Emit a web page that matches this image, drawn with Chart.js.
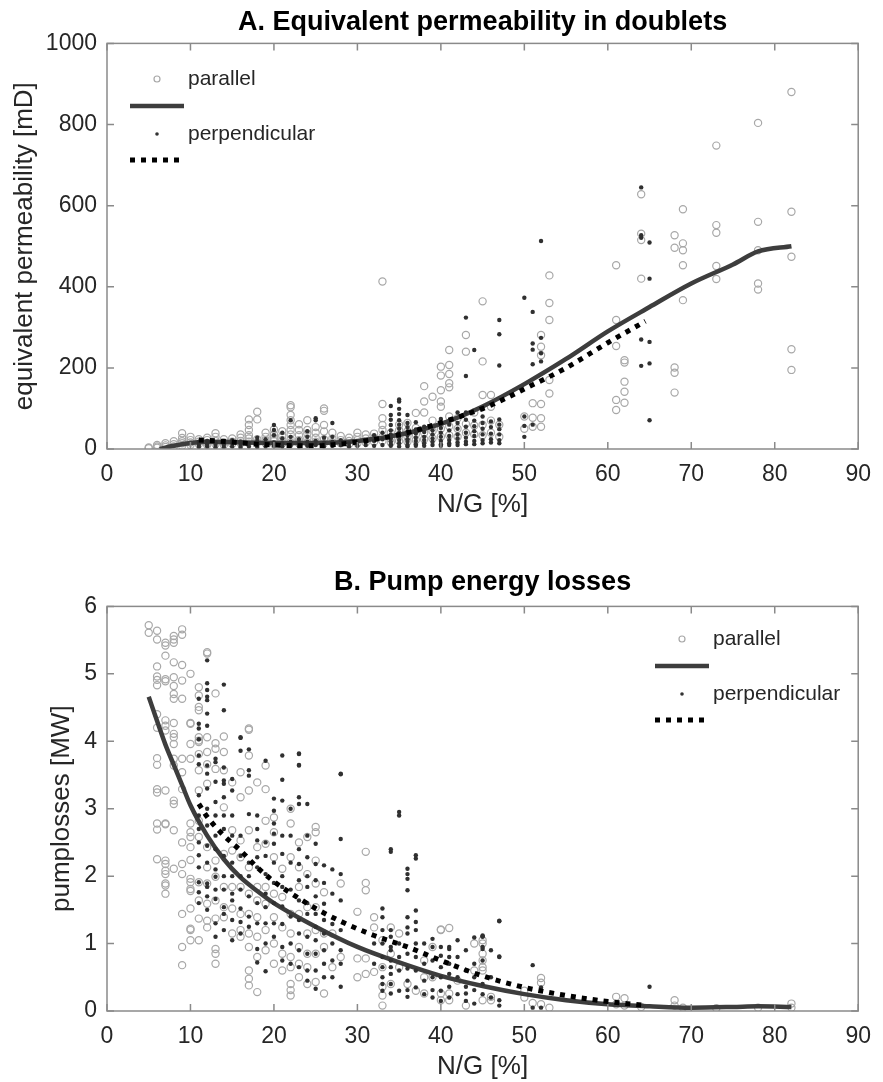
<!DOCTYPE html>
<html lang="en">
<head>
<meta charset="UTF-8">
<title>Equivalent permeability and pump energy losses</title>
<script src="https://cdn.jsdelivr.net/npm/chart.js"></script>
<style>
    html, body { margin: 0; padding: 0; background: #fff; }
    #wrap { position: relative; width: 883px; height: 1082px; }
    .box { position: absolute; left: 0; width: 883px; }
    #boxA { top: 0; height: 530px; }
    #boxB { top: 530px; height: 552px; }
</style>
</head>
<body>
<div id="wrap">
    <div class="box" id="boxA"><canvas id="chartA"></canvas></div>
    <div class="box" id="boxB"><canvas id="chartB"></canvas></div>
</div>

<script>
// ---- tick labels ----
const xTicks = [0, 10, 20, 30, 40, 50, 60, 70, 80, 90];
const yTicksA = [0, 200, 400, 600, 800, 1000];
const yTicksB = [0, 1, 2, 3, 4, 5, 6];

// ---- A. equivalent permeability [mD], columns of [N/G, values] ----
const parA = [
    [5, [2, 4]], [6, [3, 6, 10]], [7, [5, 9, 14]], [8, [6, 12, 19]],
    [9, [8, 14, 19, 27, 39]], [10, [10, 16, 22, 30]], [11, [12, 18, 24]],
    [12, [10, 15, 22, 28]], [13, [12, 20, 30, 39]], [14, [10, 16, 24]],
    [15, [12, 18, 26]], [16, [14, 20, 28, 36]], [17, [18, 26, 34, 47, 59, 73]],
    [18, [16, 24, 73, 92]], [19, [14, 22, 30, 40]], [20, [12, 20, 28, 36, 48]],
    [21, [14, 22, 32, 44]], [22, [16, 24, 36, 47, 59, 71, 84, 103, 108]],
    [23, [14, 22, 34, 47, 61]], [24, [16, 26, 38, 47, 71]], [25, [18, 28, 40, 54]],
    [26, [14, 24, 43, 59, 94, 100]], [27, [16, 26, 40]], [28, [14, 22, 32]],
    [29, [12, 20, 28]], [30, [14, 22, 30, 40]], [31, [16, 26, 36]], [32, [18, 28, 38]],
    [33, [20, 30, 47, 59, 76, 111, 413]], [34, [16, 26, 40]], [35, [20, 32, 46, 60]],
    [36, [18, 30, 44, 64]], [37, [22, 36, 52, 89]], [38, [24, 40, 90, 117, 155]],
    [39, [26, 44, 70, 129]], [40, [30, 50, 104, 117, 145, 181, 203]],
    [41, [34, 56, 80, 152, 162, 185, 207, 244]], [42, [30, 50, 76]],
    [43, [40, 62, 240, 281]], [44, [36, 58, 90]], [45, [34, 60, 133, 216, 364]],
    [46, [40, 70, 104, 133]], [47, [30, 60]], [50, [50, 80]], [51, [55, 77, 113]],
    [52, [55, 76, 111, 231, 252, 281]], [53, [137, 170, 318, 360, 428]],
    [61, [96, 121, 254, 318, 453]], [62, [114, 141, 166, 213, 219]],
    [64, [420, 515, 531, 628]], [68, [139, 188, 201, 496, 527]],
    [69, [367, 453, 490, 507, 591]], [73, [419, 451, 533, 552, 748]],
    [78, [393, 408, 490, 560, 804]], [82, [195, 246, 474, 585, 880]]
];
const perpA = [
    [11, [5, 10, 18]], [12, [6, 12, 20]], [13, [4, 10, 16]], [14, [5, 12]],
    [15, [6, 14, 22]], [16, [4, 10, 18]], [17, [6, 14]], [18, [5, 12, 20, 28]],
    [19, [6, 14, 24]], [20, [8, 16, 34, 47, 59]], [21, [6, 14, 26, 40]],
    [22, [8, 18, 30, 71]], [23, [6, 14, 24]], [24, [8, 18, 30, 44]],
    [25, [10, 20, 71, 76]], [26, [6, 16, 28]], [27, [8, 18, 30, 64]], [28, [10, 22]],
    [29, [6, 14]], [30, [8, 18]], [31, [10, 22]], [32, [8, 20, 34]], [33, [10, 24, 40]],
    [34, [8, 12, 18, 26, 36, 46, 59, 72, 84, 106]],
    [35, [6, 14, 22, 30, 40, 50, 60, 71, 86, 99, 117, 122]],
    [36, [6, 10, 18, 24, 34, 44, 54, 64, 84]], [37, [8, 12, 20, 28, 38, 48, 66]],
    [38, [8, 14, 22, 30, 42, 55]], [39, [10, 18, 26, 36, 46]],
    [40, [8, 12, 20, 30, 40, 52, 62, 74]], [41, [10, 14, 22, 32, 46, 60]],
    [42, [10, 16, 26, 36, 50, 64, 90]], [43, [12, 18, 28, 40, 55, 72, 90, 180, 324]],
    [44, [12, 20, 32, 44, 56, 70, 244]],
    [45, [14, 22, 36, 50, 64, 80]], [46, [16, 24, 38, 54, 68]],
    [47, [14, 22, 36, 49, 60, 73, 206, 283, 318]],
    [50, [30, 57, 80, 373]], [51, [60, 209, 245, 260, 338]], [52, [216, 236, 274, 513]],
    [64, [205, 270, 521, 527, 645]], [65, [71, 211, 264, 420, 509]]
];
const fitParA_x = [6.3, 8, 10, 12, 15, 20, 25, 30, 35, 40, 45, 50, 55, 60, 65, 70, 75, 78, 82];
const fitParA_y = [0, 8, 15, 18, 17, 15, 15, 20, 35, 62, 105, 160, 222, 290, 350, 408, 455, 487, 500];
const fitPerpA_x = [11, 13, 15, 18, 20, 23, 25, 28, 30, 33, 35, 38, 40, 43, 46, 50, 55, 60, 64.5];
const fitPerpA_y = [22, 20, 17, 12, 10, 8, 8, 12, 17, 27, 35, 52, 65, 85, 108, 148, 200, 262, 315];

// ---- B. pump losses [MW], columns of [N/G, values] ----
const parB = [
    [5, [5.72, 5.61]],
    [6, [5.64, 5.51, 5.11, 4.96, 4.91, 4.83, 4.4, 4.2, 3.75, 3.65, 3.29, 3.24, 2.78, 2.69, 2.25]],
    [7, [5.46, 5.42, 5.27, 4.92, 4.89, 4.31, 4.23, 4.16, 3.27, 2.78, 2.77, 2.23, 2.18, 2.08, 2.03, 1.89, 1.86, 1.74]],
    [8, [5.56, 5.51, 5.46, 5.17, 4.95, 4.82, 4.70, 4.63, 4.27, 4.11, 4.06, 3.96, 3.74, 3.64, 3.12, 3.07, 2.68, 2.11]],
    [9, [5.66, 5.58, 5.13, 4.90, 4.63, 3.74, 3.54, 3.29, 2.50, 2.18, 2.03, 1.44, 0.95, 0.68]],
    [10, [5.0, 4.27, 4.26, 3.96, 3.74, 2.78, 2.65, 2.58, 2.43, 2.24, 1.96, 1.91, 1.81, 1.78, 1.52, 1.22, 1.20, 1.05]],
    [11, [4.80, 4.68, 4.51, 4.46, 4.06, 3.99, 4.01, 3.81, 3.57, 3.27, 2.82, 2.58, 1.91, 1.64, 1.37, 1.05]],
    [12, [5.32, 5.30, 4.06, 3.84, 3.66, 3.37, 2.43, 2.13, 1.89, 1.59, 1.34, 1.24]],
    [13, [4.71, 3.97, 3.89, 3.59, 2.23, 1.99, 1.64, 1.37, 0.92, 0.85, 0.70]],
    [14, [4.07, 3.84, 3.57, 3.02, 2.33, 1.84, 1.54, 1.39]],
    [15, [3.39, 2.68, 2.38, 1.84, 1.52, 1.15]],
    [16, [3.54, 3.17, 2.53, 2.28, 1.84, 1.44, 1.20, 1.10]],
    [17, [4.19, 4.17, 3.79, 3.27, 2.68, 2.13, 1.74, 1.44, 1.15, 0.95, 0.60, 0.48, 0.38]],
    [18, [3.39, 2.43, 1.84, 1.64, 1.39, 1.10, 0.80, 0.28]],
    [19, [3.64, 3.29, 2.82, 2.48, 1.84, 1.59, 1.20, 0.90]],
    [20, [2.87, 2.65, 2.28, 1.74, 1.39, 1.00, 0.70]],
    [21, [2.11, 1.69, 1.24, 0.85, 0.60]],
    [22, [3.00, 2.78, 2.28, 1.44, 1.15, 0.80, 0.65, 0.40, 0.31, 0.23]],
    [23, [2.50, 2.13, 1.84, 1.44, 0.95, 0.70, 0.50]],
    [24, [2.58, 2.03, 1.54, 1.15, 0.85, 0.65, 0.40]],
    [25, [2.73, 2.65, 2.23, 1.89, 1.54, 1.20, 0.85, 0.43]],
    [26, [1.76, 1.15, 0.95, 0.26]], [27, [1.15, 0.65]], [28, [1.89, 0.80]],
    [30, [1.47, 0.78, 0.50]], [31, [2.36, 1.90, 1.79, 0.78, 0.55]], [32, [1.39, 1.24, 0.58]],
    [33, [1.05, 0.65, 0.36, 0.23, 0.08]], [34, [1.24, 0.85, 0.40]], [35, [1.15, 0.65]],
    [36, [0.40]], [37, [0.30]], [38, [0.75, 0.50, 0.26]], [39, [0.95, 0.50]],
    [40, [1.21, 1.20, 0.26, 0.16]], [41, [1.23, 0.26, 0.16]], [42, [0.45]], [43, [0.08]],
    [44, [1.0, 0.60]], [45, [1.05, 1.0, 0.85, 0.75, 0.65, 0.6, 0.16]], [46, [0.21, 0.16]],
    [50, [0.3, 0.2]], [51, [0.12]], [52, [0.49, 0.42, 0.1]], [53, [0.05]],
    [61, [0.21, 0.1]], [62, [0.19, 0.08]], [64, [0.06]], [68, [0.16, 0.08]],
    [69, [0.05]], [73, [0.04]], [78, [0.05]], [82, [0.11, 0.05]]
];
const perpB = [
    [11, [4.63, 4.26, 4.19, 4.03, 3.79, 3.66, 3.2, 2.9, 2.7, 2.5, 2.31, 2.13, 1.91, 1.76, 1.6]],
    [12, [5.2, 4.86, 4.76, 4.66, 4.61, 4.41, 4.23, 3.64, 3.52, 3.3, 3.0, 2.75, 2.45, 2.2, 1.89, 1.84, 1.7, 1.5]],
    [13, [3.74, 3.69, 3.4, 3.1, 2.9, 2.6, 2.4, 2.1, 1.99, 1.8, 1.66, 1.3, 1.1]],
    [14, [4.84, 4.46, 3.61, 3.42, 3.37, 3.17, 2.9, 2.7, 2.3, 2.0, 1.8, 1.54, 1.44, 1.2]],
    [15, [3.44, 3.27, 2.9, 2.6, 2.2, 2.0, 1.74, 1.64, 1.35, 1.05]],
    [16, [4.06, 4.05, 3.86, 2.6, 2.3, 2.0, 1.8, 1.52, 1.32, 1.15]],
    [17, [3.88, 3.57, 3.49, 2.92, 2.2, 2.0, 1.7, 1.4, 1.25]],
    [18, [2.9, 2.7, 2.53, 2.28, 2.13, 1.6, 1.3, 0.92, 0.72]],
    [19, [3.71, 2.5, 2.3, 2.03, 1.74, 1.54, 1.3, 1.0, 0.59]],
    [20, [3.15, 2.97, 2.78, 2.63, 2.48, 2.2, 1.9, 1.6, 1.3, 1.1]],
    [21, [3.79, 3.43, 3.12, 2.6, 2.33, 2.0, 1.84, 1.55, 1.29, 0.95, 0.75]],
    [22, [3.0, 2.6, 2.2, 1.8, 1.4, 1.0, 0.7]],
    [23, [3.82, 3.81, 3.65, 3.64, 3.17, 3.07, 2.4, 2.18, 1.94, 1.64, 1.35, 1.15, 0.9, 0.65]],
    [24, [3.07, 2.6, 2.28, 2.0, 1.84, 1.6, 1.44, 1.10, 0.85, 0.6, 0.45]],
    [25, [2.48, 2.18, 1.94, 1.7, 1.44, 1.25, 1.05, 0.85, 0.6, 0.33]],
    [26, [2.16, 1.9, 1.59, 1.35, 1.15, 0.9, 0.70, 0.5]],
    [27, [2.1, 1.74, 1.29, 1.0, 0.75, 0.50]],
    [28, [3.52, 3.51, 2.55, 2.03, 1.64, 1.2, 0.9, 0.70, 0.36]],
    [32, [1.0, 0.7]],
    [33, [1.52, 1.39, 1.20, 1.0, 0.8, 0.65, 0.50, 0.40, 0.3]],
    [34, [2.40, 2.36, 1.20, 1.10, 0.95, 0.9, 0.75, 0.65, 0.55, 0.40, 0.26]],
    [35, [2.95, 2.90, 1.0, 0.8, 0.6, 0.3]],
    [36, [2.11, 2.03, 1.96, 1.79, 1.39, 1.24, 1.15, 0.85, 0.63, 0.45, 0.31, 0.21]],
    [37, [2.31, 2.26, 1.49, 1.32, 1.20, 1.0, 0.8, 0.6, 0.35]],
    [38, [1.0, 0.7, 0.45, 0.25]],
    [39, [1.07, 0.95, 0.75, 0.50, 0.31, 0.2]],
    [40, [0.95, 0.82, 0.65, 0.50, 0.3, 0.15]],
    [41, [0.95, 0.92, 0.80, 0.7, 0.55, 0.36, 0.2]],
    [42, [1.05, 0.8, 0.5, 0.25]], [43, [0.9, 0.6, 0.36, 0.26, 0.15]],
    [44, [1.09, 0.7, 0.5, 0.31, 0.11]],
    [45, [1.12, 1.11, 1.10, 0.95, 0.92, 0.75, 0.40, 0.25]],
    [46, [0.9, 0.5, 0.2]], [47, [1.34, 1.33, 0.81, 0.80, 0.16, 0.08]],
    [51, [0.68, 0.05]], [52, [0.35, 0.05]], [65, [0.36]]
];
const fitParB_x = [5, 6, 7, 8, 9, 10, 12, 14, 16, 18, 20, 25, 30, 35, 40, 45, 50, 55, 60, 65, 70, 75, 78, 82];
const fitParB_y = [4.66, 4.3, 3.95, 3.65, 3.35, 3.05, 2.6, 2.25, 1.98, 1.78, 1.6, 1.25, 0.95, 0.72, 0.52, 0.37, 0.25, 0.16, 0.1, 0.07, 0.05, 0.06, 0.07, 0.06];
const fitPerpB_x = [11, 12, 14, 16, 18, 20, 23, 25, 28, 32, 36, 40, 45, 50, 55, 60, 64];
const fitPerpB_y = [3.07, 2.88, 2.6, 2.38, 2.13, 1.92, 1.67, 1.52, 1.33, 1.12, 0.95, 0.75, 0.52, 0.35, 0.23, 0.14, 0.09];

// ---- helpers ----
function columnsToPoints(cols) {
    const pts = [];
    cols.forEach(([x, ys]) => ys.forEach(y => pts.push({ x: x, y: y })));
    return pts;
}
function zipPoints(xs, ys) {
    return xs.map((x, i) => ({ x: x, y: ys[i] }));
}

Chart.defaults.font.family = '"Liberation Sans", Arial, Helvetica, sans-serif';
Chart.defaults.color = '#262626';

// box around the axes with inward ticks on all four sides
const axesBox = {
    id: 'axesBox',
    afterDatasetsDraw(chart) {
        const { ctx, chartArea: a, scales: { x, y } } = chart;
        const len = 7;
        ctx.save();
        ctx.strokeStyle = '#8a8a8a';
        ctx.lineWidth = 1.5;
        ctx.strokeRect(a.left, a.top, a.right - a.left, a.bottom - a.top);
        ctx.beginPath();
        x.ticks.forEach(t => {
            const px = x.getPixelForValue(t.value);
            ctx.moveTo(px, a.bottom); ctx.lineTo(px, a.bottom - len);
            ctx.moveTo(px, a.top); ctx.lineTo(px, a.top + len);
        });
        y.ticks.forEach(t => {
            const py = y.getPixelForValue(t.value);
            ctx.moveTo(a.left, py); ctx.lineTo(a.left + len, py);
            ctx.moveTo(a.right, py); ctx.lineTo(a.right - len, py);
        });
        ctx.stroke();
        ctx.restore();
    }
};

// MATLAB-like legend: marker rows and line rows are separate entries
const matLegend = {
    id: 'matLegend',
    afterDraw(chart, args, opts) {
        const { ctx } = chart;
        const x0 = opts.x, y0 = opts.y;
        const rows = [0, 27, 55, 81];
        ctx.save();
        ctx.font = '21px "Liberation Sans", Arial, sans-serif';
        ctx.fillStyle = '#262626';
        ctx.textBaseline = 'middle';
        ctx.textAlign = 'left';

        // parallel marker
        ctx.strokeStyle = '#a8a8a8';
        ctx.lineWidth = 1.2;
        ctx.beginPath();
        ctx.arc(x0 + 27, y0 + rows[0], 3, 0, Math.PI * 2);
        ctx.stroke();
        ctx.fillText('parallel', x0 + 58, y0 + rows[0]);

        // solid line
        ctx.strokeStyle = '#3d3d3d';
        ctx.lineWidth = 4.5;
        ctx.beginPath();
        ctx.moveTo(x0, y0 + rows[1]); ctx.lineTo(x0 + 54, y0 + rows[1]);
        ctx.stroke();

        // perpendicular marker
        ctx.fillStyle = '#333';
        ctx.beginPath();
        ctx.arc(x0 + 27, y0 + rows[2], 1.8, 0, Math.PI * 2);
        ctx.fill();
        ctx.fillStyle = '#262626';
        ctx.fillText('perpendicular', x0 + 58, y0 + rows[2]);

        // dotted line
        ctx.strokeStyle = '#000';
        ctx.lineWidth = 5;
        ctx.setLineDash([5, 6]);
        ctx.beginPath();
        ctx.moveTo(x0, y0 + rows[3]); ctx.lineTo(x0 + 50, y0 + rows[3]);
        ctx.stroke();
        ctx.restore();
    }
};

function buildChart(canvasId, cfg) {
    const ctx = document.getElementById(canvasId).getContext('2d');
    return new Chart(ctx, {
        type: 'scatter',
        data: {
            datasets: [
                {
                    label: 'perpendicular fit',
                    type: 'line',
                    data: zipPoints(cfg.perpFitX, cfg.perpFitY),
                    borderColor: '#000',
                    borderWidth: 5,
                    borderDash: [5, 6],
                    pointRadius: 0,
                    fill: false,
                    cubicInterpolationMode: 'monotone',
                    order: 0
                },
                {
                    label: 'perpendicular',
                    data: columnsToPoints(cfg.perp),
                    pointRadius: 2.2,
                    pointBackgroundColor: '#303030',
                    pointBorderColor: '#303030',
                    pointBorderWidth: 0,
                    order: 1
                },
                {
                    label: 'parallel fit',
                    type: 'line',
                    data: zipPoints(cfg.parFitX, cfg.parFitY),
                    borderColor: '#3d3d3d',
                    borderWidth: 4.5,
                    pointRadius: 0,
                    fill: false,
                    cubicInterpolationMode: 'monotone',
                    order: 2
                },
                {
                    label: 'parallel',
                    data: columnsToPoints(cfg.par),
                    pointRadius: 3.6,
                    pointBackgroundColor: 'rgba(0,0,0,0)',
                    pointBorderColor: '#a8a8a8',
                    pointBorderWidth: 1.2,
                    order: 3
                }
            ]
        },
        options: {
            responsive: true,
            maintainAspectRatio: false,
            animation: false,
            layout: { padding: cfg.padding },
            plugins: {
                legend: { display: false },
                tooltip: { enabled: false },
                title: {
                    display: true,
                    text: cfg.title,
                    color: '#000',
                    fullSize: false,
                    font: { size: 27, weight: 'bold' },
                    padding: cfg.titlePad
                },
                matLegend: cfg.legendPos
            },
            scales: {
                x: {
                    type: 'linear',
                    min: 0, max: 90,
                    afterBuildTicks: s => { s.ticks = xTicks.map(v => ({ value: v })); },
                    afterFit: s => { s.height = cfg.xHeight; },
                    grid: { display: false, drawTicks: false },
                    border: { display: false },
                    ticks: { font: { size: 23 }, padding: 12, maxRotation: 0, autoSkip: false, color: '#262626',
                             callback: v => String(v) },
                    title: { display: true, text: 'N/G [%]', font: { size: 26 }, padding: { top: 0, bottom: 0 }, color: '#262626' }
                },
                y: {
                    type: 'linear',
                    min: 0, max: cfg.yMax,
                    afterBuildTicks: s => { s.ticks = cfg.yTicks.map(v => ({ value: v })); },
                    afterFit: s => { s.width = cfg.yWidth; },
                    grid: { display: false, drawTicks: false },
                    border: { display: false },
                    ticks: { font: { size: 23 }, padding: 10, color: '#262626', callback: v => String(v) },
                    title: { display: true, text: cfg.yTitle, font: { size: 26 }, padding: 4, color: '#262626' }
                }
            }
        },
        plugins: [axesBox, matLegend]
    });
}

buildChart('chartA', {
    title: 'A. Equivalent permeability in doublets',
    yTitle: 'equivalent permeability [mD]',
    par: parA, perp: perpA,
    parFitX: fitParA_x, parFitY: fitParA_y,
    perpFitX: fitPerpA_x, perpFitY: fitPerpA_y,
    yMax: 1000, yTicks: yTicksA,
    padding: { left: 5.4, right: 15, top: 0, bottom: 9.4 },
    titlePad: { top: 6, bottom: 5 },
    xHeight: 71.6, yWidth: 101.6,
    legendPos: { x: 130, y: 79 }
});

buildChart('chartB', {
    title: 'B. Pump energy losses',
    yTitle: 'pumplosses [MW]',
    par: parB, perp: perpB,
    parFitX: fitParB_x, parFitY: fitParB_y,
    perpFitX: fitPerpB_x, perpFitY: fitPerpB_y,
    yMax: 6, yTicks: yTicksB,
    padding: { left: 42.4, right: 15, top: 0, bottom: 0 },
    titlePad: { top: 36, bottom: 8 },
    xHeight: 71, yWidth: 64.6,
    legendPos: { x: 655, y: 109 }
});
</script>
</body>
</html>
